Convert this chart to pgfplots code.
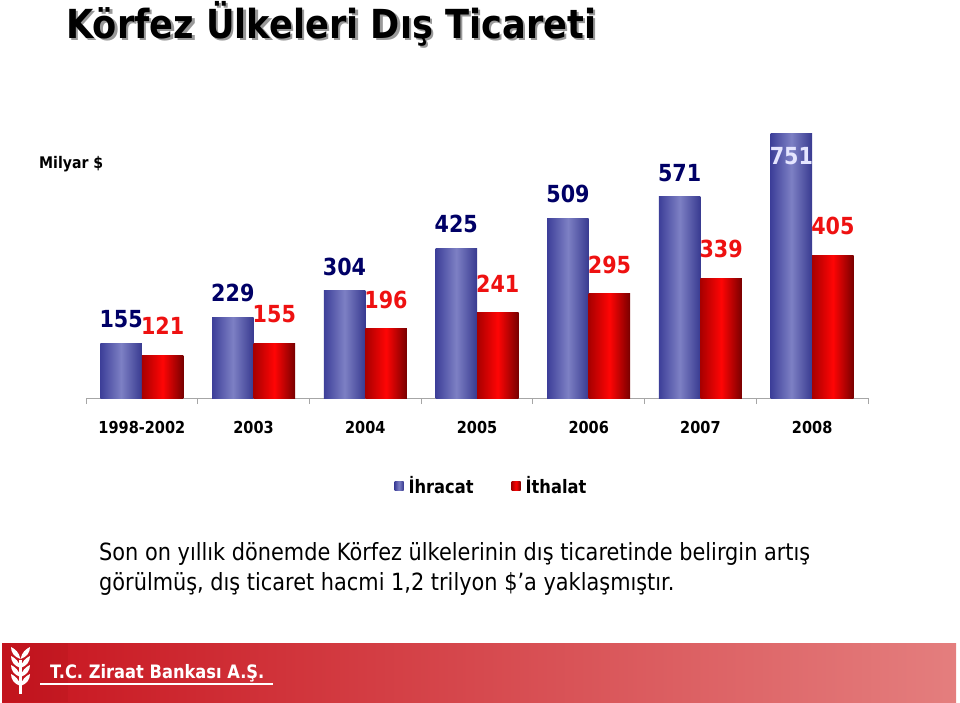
\documentclass[border=0pt]{standalone}
\usepackage{pgfplots}
\pgfplotsset{compat=1.18}
\usepackage{fontspec}
\setmainfont{DejaVu Sans}[FakeStretch=0.88]
\definecolor{bluedark}{HTML}{3D3F99}
\definecolor{bluelight}{HTML}{7D80C4}
\definecolor{bluedark2}{HTML}{383A90}
\definecolor{redleft}{HTML}{A80000}
\definecolor{redmid}{HTML}{FF0505}
\definecolor{redright}{HTML}{780000}
\definecolor{navylab}{HTML}{000066}
\definecolor{redlab}{HTML}{EE1111}
\definecolor{footL}{HTML}{C8141E}
\definecolor{footR}{HTML}{E47E7E}
\pgfplotsset{
  blueBar/.style={draw=none, left color=bluedark, right color=bluedark2, middle color=bluelight,
    bar shift=-20.75pt, nodes near coords,
    every node near coord/.append style={anchor=base, yshift=15.5pt, text=navylab, font=\fontsize{23.5}{26}\selectfont\bfseries}},
  redBar/.style={draw=none, left color=redleft, right color=redright, middle color=redmid,
    bar shift=20.75pt, nodes near coords,
    every node near coord/.append style={anchor=base, yshift=20.5pt, text=redlab, font=\fontsize{23.5}{26}\selectfont\bfseries}},
}
\begin{document}
\begin{tikzpicture}
\useasboundingbox (0pt,0pt) rectangle (960pt,-702pt);
% title with shadow
\node[anchor=base west, text=black!40, inner sep=0pt] at (68.5pt,-40.5pt) {\fontsize{40}{44}\selectfont\bfseries Körfez Ülkeleri Dış Ticareti};
\node[anchor=base west, text=black, inner sep=0pt] at (66pt,-38pt) {\fontsize{40}{44}\selectfont\bfseries Körfez Ülkeleri Dış Ticareti};
\node[anchor=base west, inner sep=0pt] at (39pt,-168pt) {\fontsize{16}{20}\selectfont\bfseries Milyar \$};
\begin{axis}[
  at={(86pt,-398pt)}, anchor=south west,
  scale only axis, width=782pt, height=265pt,
  ybar, bar width=41.5pt,
  xmin=-0.5, xmax=6.5, ymin=0, ymax=751,
  clip=false,
  axis x line*=bottom, hide y axis,
  x axis line style={draw=black!35, line width=0.8pt},
  xtick={0,...,6},
  xticklabels={1998-2002,2003,2004,2005,2006,2007,2008},
  major x tick style={draw=none},
  minor xtick={-0.5,0.5,...,6.5},
  minor x tick style={draw=black!35, line width=0.8pt},
  minor tick length=6pt, tick align=outside,
  xticklabel style={anchor=base, yshift=-31pt, font=\fontsize{16.5}{20}\selectfont\bfseries},
  point meta=explicit symbolic,
  legend style={at={(0.5185,-0.332)}, anchor=center, draw=none, fill=none,
    legend columns=2, font=\fontsize{18.5}{21}\selectfont\bfseries,
    /tikz/every even column/.append style={column sep=36pt}},
  legend image code/.code={\path (0pt,0pt) -- (12pt,0pt); \path[#1, draw=none] (0pt,-4.5pt) rectangle (9pt,4.5pt);},
]
% Ihracat (exports)
\addplot[blueBar] coordinates {(0,155)[155]};
\addlegendentry{İhracat}
\addplot[redBar] coordinates {(0,121)[121]};
\addlegendentry{İthalat}
\addplot[blueBar, forget plot] coordinates {(1,229)[229]};
\addplot[blueBar, forget plot] coordinates {(2,304)[304]};
\addplot[blueBar, forget plot] coordinates {(3,425)[425]};
\addplot[blueBar, forget plot] coordinates {(4,509)[509]};
\addplot[blueBar, forget plot] coordinates {(5,571)[571]};
\addplot[blueBar, forget plot, every node near coord/.append style={yshift=-46.5pt, text=white!90!blue}] coordinates {(6,751)[751]};
% Ithalat (imports)
\addplot[redBar, forget plot] coordinates {(1,155)[155]};
\addplot[redBar, forget plot] coordinates {(2,196)[196]};
\addplot[redBar, forget plot] coordinates {(3,241)[241]};
\addplot[redBar, forget plot] coordinates {(4,295)[295]};
\addplot[redBar, forget plot] coordinates {(5,339)[339]};
\addplot[redBar, forget plot] coordinates {(6,405)[405]};
\end{axis}
% paragraph
\node[anchor=base west, inner sep=0pt] at (99pt,-560pt) {\fontsize{23.7}{26}\selectfont Son on yıllık dönemde Körfez ülkelerinin dış ticaretinde belirgin artış};
\node[anchor=base west, inner sep=0pt] at (99pt,-590pt) {\fontsize{23.7}{26}\selectfont görülmüş, dış ticaret hacmi 1,2 trilyon \$’a yaklaşmıştır.};
% footer
\shade[left color=footL, right color=footR] (2pt,-643pt) rectangle (956pt,-702pt);
\fill[footL!85!black, opacity=0.2] (2pt,-643pt) rectangle (68pt,-702pt);
% logo (wheat ear)
\begin{scope}[white]
\fill (19pt,-694pt) -- (22pt,-694pt) -- (22pt,-660pt) -- (19pt,-660pt) -- cycle;
\foreach \yy in {0,9,18,27} {
  \fill (20.5pt,-686pt+\yy pt) .. controls (14pt,-684pt+\yy pt) and (11pt,-679pt+\yy pt) .. (11pt,-674pt+\yy pt) .. controls (15pt,-676pt+\yy pt) and (19pt,-679pt+\yy pt) .. cycle;
  \fill (20.5pt,-686pt+\yy pt) .. controls (27pt,-684pt+\yy pt) and (30pt,-679pt+\yy pt) .. (30pt,-674pt+\yy pt) .. controls (26pt,-676pt+\yy pt) and (22pt,-679pt+\yy pt) .. cycle;
}
\end{scope}
\node[anchor=base west, inner sep=0pt, text=white] at (50pt,-678pt) {\fontsize{18.5}{22}\selectfont\bfseries T.C. Ziraat Bankası A.Ş.};
\draw[white, line width=1.2pt] (40pt,-684pt) -- (273pt,-684pt);
\end{tikzpicture}
\end{document}
